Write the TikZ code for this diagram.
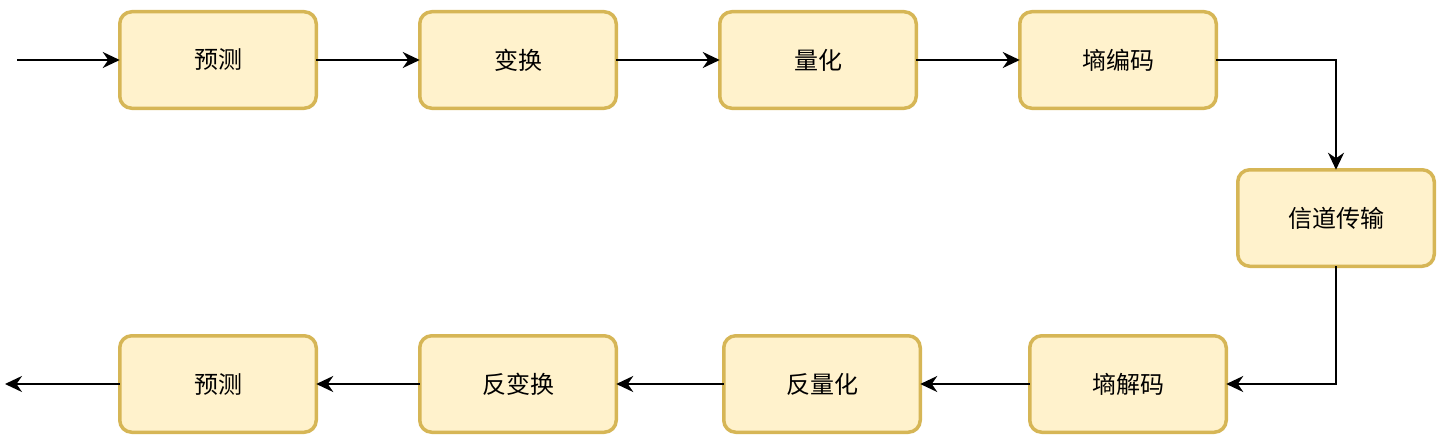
\documentclass[tikz,border=0pt]{standalone}
\usepackage{fontspec}
\setmainfont{Noto Sans CJK SC}
\usetikzlibrary{arrows.meta}
\definecolor{boxfill}{HTML}{FFF2CC}
\definecolor{boxline}{HTML}{D6B656}
\tikzset{
  procbox/.style={draw=boxline, fill=boxfill, line width=3.5pt, rounded corners=12pt,
    minimum width=196.5pt, minimum height=96.5pt, inner sep=0pt, outer sep=0pt,
    font=\fontsize{24}{28}\selectfont},
  conn/.style={line width=2pt, -{Stealth[length=17pt,width=16pt,inset=5.5pt]}}
}
\begin{document}
\begin{tikzpicture}[x=1pt,y=-1pt]
\useasboundingbox (0,0) rectangle (1448,444);
\node[procbox] (p1) at (218,60) {预测};
\node[procbox] (t1) at (518,60) {变换};
\node[procbox] (q1) at (818,60) {量化};
\node[procbox] (e1) at (1118,60) {墒编码};
\node[procbox] (ch) at (1336,218) {信道传输};
\node[procbox] (d2) at (1128,384) {墒解码};
\node[procbox] (q2) at (822,384) {反量化};
\node[procbox] (t2) at (518,384) {反变换};
\node[procbox] (p2) at (218,384) {预测};
\coordinate (in) at (17,60);
\coordinate (out) at (5,384);
\draw[conn] (in) -- (p1);
\draw[conn] (p1) -- (t1);
\draw[conn] (t1) -- (q1);
\draw[conn] (q1) -- (e1);
\draw[conn] (e1.east) -| (ch.north);
\draw[conn] (ch.south) |- (d2.east);
\draw[conn] (d2) -- (q2);
\draw[conn] (q2) -- (t2);
\draw[conn] (t2) -- (p2);
\draw[conn] (p2) -- (out);
\end{tikzpicture}
\end{document}
